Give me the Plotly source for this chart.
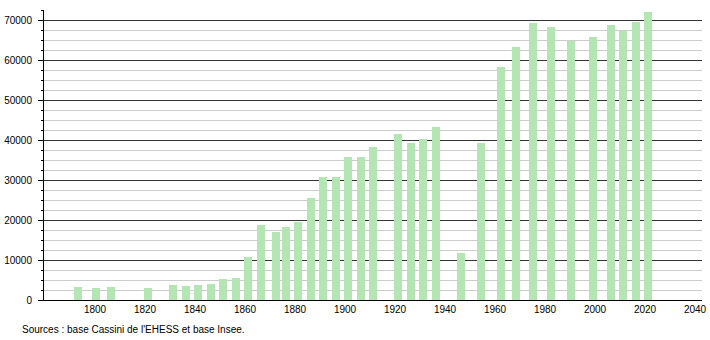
import plotly.graph_objects as go

years = [1793, 1800, 1806, 1821, 1831, 1836, 1841, 1846, 1851, 1856, 1861, 1866,
         1872, 1876, 1881, 1886, 1891, 1896, 1901, 1906, 1911, 1921, 1926, 1931,
         1936, 1946, 1954, 1962, 1968, 1975, 1982, 1990, 1999, 2006, 2011, 2016, 2021]
population = [3330, 3080, 3330, 3080, 3830, 3580, 3830, 4080, 5330, 5580, 10830, 18830,
              17080, 18250, 19580, 25500, 30830, 30830, 35830, 35830, 38250, 41580, 39330, 40330,
              43330, 11830, 39330, 58330, 63250, 69330, 68330, 64750, 65830, 68830, 67250, 69580, 72080]
x_ticks = [1800, 1820, 1840, 1860, 1880, 1900, 1920, 1940, 1960, 1980, 2000, 2020, 2040]
y_ticks = [0, 10000, 20000, 30000, 40000, 50000, 60000, 70000]
source_text = "Sources : base Cassini de l'EHESS et base Insee."

W, H = 710, 340
L, R, T, B = 44, 8, 10, 40
pw = W - L - R

fig = go.Figure(go.Bar(
    x=years, y=population,
    width=3.2, offset=-1.3,
    marker=dict(color="#b3e6b3", line=dict(width=0)),
    hoverinfo="x+y",
))

font = dict(family="Liberation Sans, Arial, sans-serif", size=10, color="#000")

fig.update_layout(
    width=W, height=H,
    margin=dict(l=L, r=R, t=T, b=B, autoexpand=False),
    paper_bgcolor="white", plot_bgcolor="white",
    showlegend=False,
    font=font,
    bargap=0,
    xaxis=dict(
        range=[1779.6, 2042.8], automargin=False,
        tickvals=x_ticks, ticktext=[str(v) for v in x_ticks],
        showgrid=False, zeroline=False,
        showline=True, linecolor="#000", linewidth=1,
        ticks="", tickfont=font,
    ),
    yaxis=dict(
        range=[0, 72500], automargin=False,
        tickvals=y_ticks, ticktext=[str(v) for v in y_ticks],
        showgrid=True, gridcolor="#333", gridwidth=1,
        zeroline=False,
        showline=True, linecolor="#000", linewidth=1,
        ticks="outside", ticklen=5, tickcolor="#000", tickwidth=1,
        ticklabelstandoff=4,
        tickfont=font,
        minor=dict(dtick=2500, tick0=0, showgrid=True, gridcolor="#cccccc", gridwidth=1,
                   ticks="outside", ticklen=2, tickcolor="#000"),
    ),
    annotations=[dict(
        text=source_text, xref="paper", yref="paper",
        x=(20 - L) / pw, y=-(329.5 - (H - B)) / (H - T - B),
        xanchor="left", yanchor="middle", showarrow=False, font=font,
    )],
)

fig.write_html("out.html")
